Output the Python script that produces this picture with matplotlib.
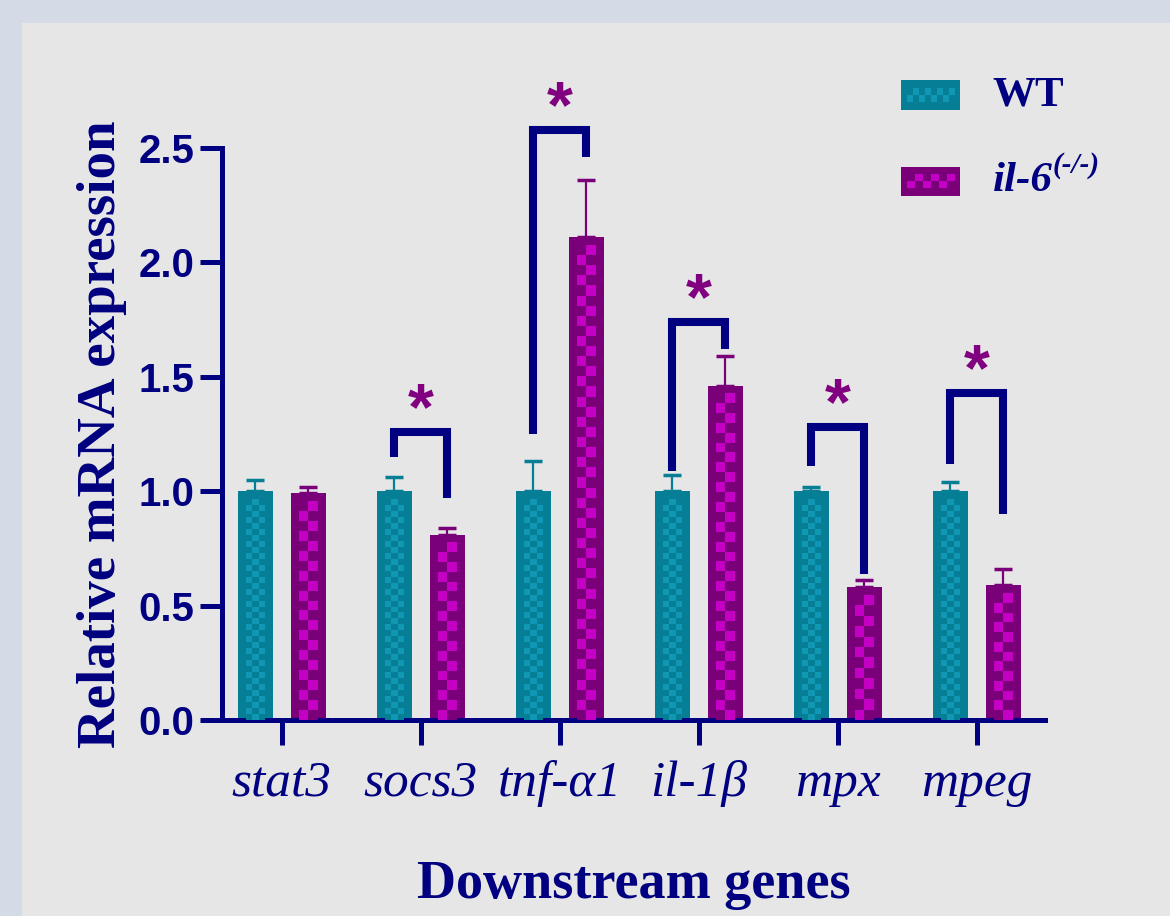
import numpy as np
import matplotlib
matplotlib.use('Agg')
import matplotlib.pyplot as plt
from matplotlib.colors import ListedColormap
from matplotlib.patches import Rectangle

genes = ['stat3', 'socs3', 'tnf-α1', 'il-1β', 'mpx', 'mpeg']
wt_mean = [1.0, 1.0, 1.0, 1.0, 1.0, 1.0]
wt_err = [0.05, 0.06, 0.13, 0.07, 0.02, 0.04]
ko_mean = [0.99, 0.81, 2.11, 1.46, 0.58, 0.59]
ko_err = [0.03, 0.03, 0.25, 0.13, 0.03, 0.07]

# significance brackets: gene index, bracket top, left leg end, right leg end
sig_idx = [1, 2, 3, 4, 5]
sig_top = [1.26, 2.58, 1.74, 1.28, 1.43]
sig_left = [1.15, 1.25, 1.09, 1.11, 1.12]
sig_right = [0.97, 2.46, 1.62, 0.64, 0.90]

navy = '#000080'
purple = '#800080'
wt_dark, wt_light = '#067e95', '#1097b3'
ko_dark, ko_light = '#7a007a', '#c400c4'

# pixel -> data unit helpers
PX_X = 1 / 139
PX_Y = 1 / 228.8

fig = plt.figure(figsize=(11.7, 9.16), dpi=100, facecolor='#d4dbe6')
fig.patches.append(Rectangle((22 / 1170, 0), 1, 893 / 916, transform=fig.transFigure,
                             facecolor='#e6e6e6', edgecolor='none', zorder=-5))

ax = fig.add_axes([222 / 1170, 196 / 916, (1045 - 222) / 1170, (859.5 - 196) / 916])
ax.set_facecolor('none')

x = np.arange(len(genes))
off = 0.19
w = 0.25


def checker(x0, x1, y0, y1, dark, light, cell):
    cols = max(1, round((x1 - x0) / (cell * PX_X)))
    rows = max(1, round((y1 - y0) / (cell * PX_Y)))
    pattern = np.indices((rows, cols)).sum(axis=0) % 2
    ax.imshow(pattern, extent=(x0, x1, y0, y1), cmap=ListedColormap([dark, light]),
              vmin=0, vmax=1, aspect='auto', interpolation='nearest', zorder=3)


def fill_bars(bars, dark, light, cell, border=8):
    for b in bars:
        x0, wd, h = b.get_x(), b.get_width(), b.get_height()
        top = h - border * PX_Y
        if top > 0:
            checker(x0 + border * PX_X, x0 + wd - border * PX_X, 0, top, dark, light, cell)


ax.errorbar(x - off, wt_mean, yerr=[np.zeros(len(x)), wt_err], fmt='none', ecolor=wt_dark,
            elinewidth=1.6, capsize=6.5, capthick=2.5, zorder=1)
ax.errorbar(x + off, ko_mean, yerr=[np.zeros(len(x)), ko_err], fmt='none', ecolor=ko_dark,
            elinewidth=1.6, capsize=6.5, capthick=2.5, zorder=1)
wt_bars = ax.bar(x - off, wt_mean, w, color=wt_dark, zorder=2)
ko_bars = ax.bar(x + off, ko_mean, w, color=ko_dark, zorder=2)
fill_bars(wt_bars, wt_dark, wt_light, 6)
fill_bars(ko_bars, ko_dark, ko_light, 10)

# significance brackets and stars
for i, t, l, r in zip(sig_idx, sig_top, sig_left, sig_right):
    ax.plot([i - off, i - off, i + off, i + off], [l, t, t, r], color=navy, lw=5.8,
            solid_joinstyle='miter', solid_capstyle='butt', zorder=4)
    ax.text(i, t - 0.05, '*', ha='center', va='bottom', fontsize=48, color=purple,
            fontfamily='Liberation Sans', fontweight='bold', zorder=5)

# legend drawn by hand so the swatches keep the checker fill
leg_x0, leg_x1 = 4.453, 4.878
for (y0, y1), dark, light, cell in [((2.666, 2.797), wt_dark, wt_light, 6),
                                    ((2.29, 2.417), ko_dark, ko_light, 8)]:
    ax.add_patch(Rectangle((leg_x0, y0), leg_x1 - leg_x0, y1 - y0, facecolor=dark,
                           edgecolor='none', zorder=2))
    checker(leg_x0 + 6 * PX_X, leg_x1 - 6 * PX_X, y0 + 8 * PX_Y, y1 - 8 * PX_Y, dark, light, cell)

ax.text(5.115, 2.73, 'WT', ha='left', va='center', fontsize=31, color=navy,
        fontfamily='Liberation Serif', fontweight='bold')
t_ko = ax.text(5.115, 2.355, 'il-6', ha='left', va='center', fontsize=31, color=navy,
               fontfamily='Liberation Serif', fontweight='bold', fontstyle='italic')
ax.annotate('(-/-)', xy=(1.0, 0.55), xycoords=t_ko, ha='left', va='bottom', fontsize=21,
            color=navy, fontfamily='Liberation Serif', fontweight='bold', fontstyle='italic')

ax.set_xlim(-0.43, 5.49)
ax.set_ylim(0, 2.9)

for s in ['top', 'right']:
    ax.spines[s].set_visible(False)
for s in ['left', 'bottom']:
    ax.spines[s].set_linewidth(3.6)
    ax.spines[s].set_color(navy)
ax.spines['left'].set_bounds(0, 2.5)

yt = [0, 0.5, 1.0, 1.5, 2.0, 2.5]
ax.set_yticks(yt)
ax.set_yticklabels([f'{v:.1f}' for v in yt], fontfamily='Liberation Sans', fontweight='bold',
                   fontsize=29, color=navy)
ax.set_xticks(x)
ax.set_xticklabels(genes, fontfamily='Liberation Serif', fontstyle='italic', fontsize=37,
                   color=navy)
ax.tick_params(axis='y', length=16, width=3.6, color=navy, pad=4)
ax.tick_params(axis='x', length=18, width=3.6, color=navy, pad=11)

ax.set_ylabel('Relative mRNA expression', fontfamily='Liberation Serif', fontweight='bold',
              fontsize=39.5, color=navy)
ax.yaxis.set_label_coords(-0.115, 1.25 / 2.9)
ax.set_xlabel('Downstream genes', fontfamily='Liberation Serif', fontweight='bold',
              fontsize=39, color=navy, labelpad=38)

fig.savefig('out.png', dpi=100, facecolor=fig.get_facecolor())
